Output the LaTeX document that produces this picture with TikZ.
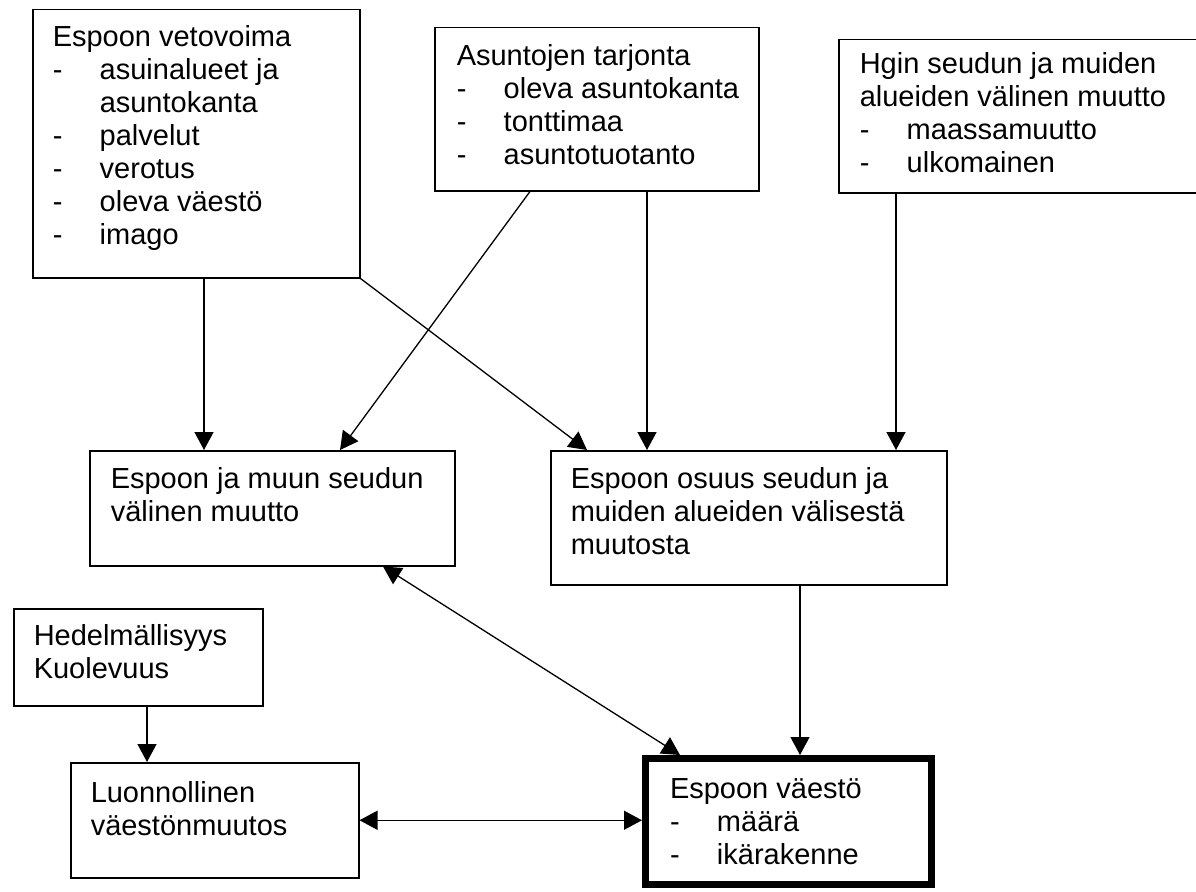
\documentclass[tikz,border=0pt]{standalone}
\usepackage{fontspec}
\setmainfont{Liberation Sans}
\usetikzlibrary{arrows.meta}

\newcommand{\head}[1]{\multicolumn{2}{@{}l@{}}{#1}\\}
\newcommand{\itm}[1]{-&#1\\}
\newcommand{\boxtext}[2]{\makebox[#1][l]{\begin{tabular}[t]{@{}p{47pt}@{}l@{}}#2\end{tabular}}}

\tikzset{
  box/.style={draw, line width=1.5pt, anchor=north west, inner ysep=0pt},
  arr/.style={line width=1.3pt, -{Triangle[length=18pt,width=19pt]}},
  darr/.style={line width=1.3pt, {Triangle[length=18pt,width=19pt]}-{Triangle[length=18pt,width=19pt]}},
}

\begin{document}
\begin{tikzpicture}[x=1pt, y=-1pt, font=\fontsize{29}{33}\selectfont]
  \useasboundingbox (0,0) rectangle (1196,891);

  % upper row
  \node[box, inner xsep=20pt, text height=37pt, text depth=231pt] (veto) at (32,9)
    {\boxtext{287pt}{\head{Espoon vetovoima}\itm{asuinalueet ja}&asuntokanta\\\itm{palvelut}\itm{verotus}\itm{oleva väestö}\itm{imago}}};
  \node[box, inner xsep=22pt, text height=38pt, text depth=125pt] (tarj) at (434,27)
    {\boxtext{280pt}{\head{Asuntojen tarjonta}\itm{oleva asuntokanta}\itm{tonttimaa}\itm{asuntotuotanto}}};
  \node[box, inner xsep=21pt, text height=34pt, text depth=119pt] (hgin) at (838,39)
    {\boxtext{328pt}{\head{Hgin seudun ja muiden}\head{alueiden välinen muutto}\itm{maassamuutto}\itm{ulkomainen}}};

  % middle row
  \node[box, inner xsep=21pt, text height=38pt, text depth=77pt] (pull) at (89,450)
    {\boxtext{323pt}{\head{Espoon ja muun seudun}\head{välinen muutto}}};
  \node[box, inner xsep=20pt, text height=38pt, text depth=96pt] (share) at (550,450)
    {\boxtext{356pt}{\head{Espoon osuus seudun ja}\head{muiden alueiden välisestä}\head{muutosta}}};

  % lower row
  \node[box, inner xsep=20pt, text height=37pt, text depth=60pt] (birth) at (13,608)
    {\boxtext{209pt}{\head{Hedelmällisyys}\head{Kuolevuus}}};
  \node[box, inner xsep=20pt, text height=40pt, text depth=75pt] (nat) at (70,762)
    {\boxtext{248pt}{\head{Luonnollinen}\head{väestönmuutos}}};
  \node[box, line width=7pt, inner xsep=24.5pt, text height=39.5pt, text depth=86.5pt] (pop) at (642,755)
    {\boxtext{237pt}{\head{Espoon väestö}\itm{määrä}\itm{ikärakenne}}};

  % connectors
  \draw[arr] ([xshift=172pt]veto.south west) -- ([xshift=115pt]pull.north west);
  \draw[arr] (veto.south east) -- ([xshift=37pt]share.north west);
  \draw[arr] ([xshift=96pt]tarj.south west) -- ([xshift=251pt]pull.north west);
  \draw[arr] ([xshift=213pt]tarj.south west) -- ([xshift=97pt]share.north west);
  \draw[arr] ([xshift=58pt]hgin.south west) -- ([xshift=346pt]share.north west);
  \draw[arr] ([xshift=134pt]birth.south west) -- ([xshift=77pt]nat.north west);
  \draw[arr] ([xshift=250pt]share.south west) -- ([xshift=158pt]pop.north west);
  \draw[darr] ([xshift=294pt]pull.south west) -- ([xshift=38pt]pop.north west);
  \draw[darr] (nat.east) -- (nat.east -| pop.west);
\end{tikzpicture}
\end{document}
